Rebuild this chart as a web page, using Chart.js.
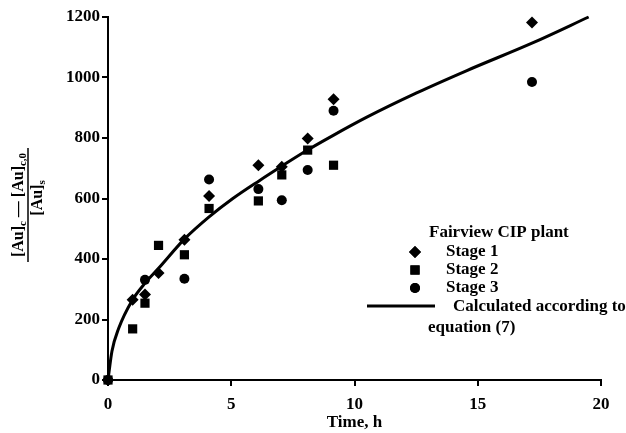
<!DOCTYPE html>
<html>
<head>
<meta charset="utf-8">
<script src="https://cdn.jsdelivr.net/npm/chart.js@4.4.1/dist/chart.umd.min.js"></script>
<style>
  html, body { margin: 0; padding: 0; background: #fff; }
  #wrap { width: 626px; height: 433px; position: relative; }
</style>
</head>
<body>
<div id="wrap"><canvas id="c" width="626" height="433"></canvas></div>
<script>
// ---- data ----
const stage1Time  = [0, 1.0, 1.5, 2.05, 3.1, 4.1, 6.1, 7.05, 8.1, 9.15, 17.2];
const stage1Value = [0, 265, 283, 354, 464, 608, 710, 705, 798, 928, 1182];
const stage2Time  = [0, 1.0, 1.5, 2.05, 3.1, 4.1, 6.1, 7.05, 8.1, 9.15];
const stage2Value = [0, 169, 254, 445, 414, 567, 592, 678, 760, 710];
const stage3Time  = [0, 1.5, 3.1, 4.1, 6.1, 7.05, 8.1, 9.15, 17.2];
const stage3Value = [0, 331, 335, 663, 631, 594, 694, 890, 985];
const curveTime   = [0, 0.16, 0.43, 0.98, 1.52, 2.06, 3.08, 4.10, 5.05, 6.14, 7.09, 8.11, 9.12, 10.48, 12.52, 14.56, 17.27, 19.5];
const curveValue  = [0, 95, 170, 263, 322, 370, 464, 539, 599, 659, 709, 761, 808, 868, 949, 1023, 1116, 1200];
const xTicks = [0, 5, 10, 15, 20];
const yTicks = [0, 200, 400, 600, 800, 1000, 1200];
const seriesNames = ['Stage 1', 'Stage 2', 'Stage 3', 'Calculated according to'];
const legendTitle = 'Fairview CIP plant';
const legendExtra = 'equation (7)';
const xTitle = 'Time, h';

const pts = (xs, ys) => xs.map((x, i) => ({ x: x, y: ys[i] }));
const FONT = '"Liberation Serif", "DejaVu Serif", serif';

const legendPlugin = {
  id: 'customLegend',
  afterDraw(chart) {
    const ctx = chart.ctx;
    ctx.save();
    ctx.fillStyle = '#000';
    ctx.strokeStyle = '#000';
    ctx.font = 'bold 17px ' + FONT;
    ctx.textBaseline = 'middle';
    ctx.textAlign = 'left';
    ctx.fillText(legendTitle, 429, 233);
    const rows = [
      { y: 252, style: 'rectRot', r: 6 },
      { y: 270, style: 'rect', r: 6.5 },
      { y: 288, style: 'circle', r: 5 }
    ];
    rows.forEach((row, i) => {
      Chart.helpers.drawPoint(ctx, { pointStyle: row.style, radius: row.r, rotation: 0, borderWidth: 0 }, 415, row.y);
      ctx.fill();
      ctx.fillText(seriesNames[i], 446, row.y);
    });
    ctx.lineWidth = 3;
    ctx.beginPath();
    ctx.moveTo(367, 306);
    ctx.lineTo(435, 306);
    ctx.stroke();
    ctx.fillText(seriesNames[3], 453, 307);
    ctx.fillText(legendExtra, 428, 328);

    // y-axis title as a fraction
    ctx.translate(28, 205);
    ctx.rotate(-Math.PI / 2);
    const big = 'bold 16px ' + FONT, small = 'bold 11px ' + FONT;
    const num = [['[Au]', big, 0], ['c', small, 4], [' \u2014 ', big, 0], ['[Au]', big, 0], ['c,0', small, 4]];
    const den = [['[Au]', big, 0], ['s', small, 4]];
    const width = parts => parts.reduce((s, p) => { ctx.font = p[1]; return s + ctx.measureText(p[0]).width; }, 0);
    const drawParts = (parts, cx, cy) => {
      let x = cx - width(parts) / 2;
      parts.forEach(p => {
        ctx.font = p[1];
        ctx.fillText(p[0], x, cy + p[2]);
        x += ctx.measureText(p[0]).width;
      });
    };
    drawParts(num, 0, -9);
    drawParts(den, 7, 10);
    ctx.lineWidth = 1.5;
    ctx.beginPath();
    ctx.moveTo(-57, 0);
    ctx.lineTo(57, 0);
    ctx.stroke();
    ctx.restore();
  }
};

new Chart(document.getElementById('c'), {
  type: 'scatter',
  data: {
    datasets: [
      { label: seriesNames[0], data: pts(stage1Time, stage1Value), pointStyle: 'rectRot', pointRadius: 6, backgroundColor: '#000', borderColor: '#000', borderWidth: 0, clip: false },
      { label: seriesNames[1], data: pts(stage2Time, stage2Value), pointStyle: 'rect', pointRadius: 6.5, backgroundColor: '#000', borderColor: '#000', borderWidth: 0, clip: false },
      { label: seriesNames[2], data: pts(stage3Time, stage3Value), pointStyle: 'circle', pointRadius: 5, backgroundColor: '#000', borderColor: '#000', borderWidth: 0, clip: false },
      { label: seriesNames[3], data: pts(curveTime, curveValue), type: 'line', showLine: true, pointRadius: 0, borderColor: '#000', borderWidth: 3, cubicInterpolationMode: 'monotone', fill: false, clip: false }
    ]
  },
  options: {
    responsive: false,
    animation: false,
    layout: { padding: { left: 0, right: 25, top: 17, bottom: 0 } },
    plugins: { legend: { display: false }, tooltip: { enabled: false } },
    scales: {
      x: {
        type: 'linear', min: 0, max: 20,
        afterBuildTicks: s => { s.ticks = xTicks.map(v => ({ value: v })); },
        afterFit: s => { s.height = 53; },
        grid: { drawOnChartArea: false, drawTicks: true, tickLength: 6, color: '#000', lineWidth: 2 },
        border: { display: true, color: '#000', width: 2 },
        ticks: { color: '#000', font: { family: FONT, size: 17, weight: 'bold' }, padding: 8, maxRotation: 0, callback: v => String(v) },
        title: { display: true, text: xTitle, color: '#000', font: { family: FONT, size: 17, weight: 'bold' }, padding: { top: 0, bottom: 0 } }
      },
      y: {
        type: 'linear', min: 0, max: 1200,
        afterBuildTicks: s => { s.ticks = yTicks.map(v => ({ value: v })); },
        afterFit: s => { s.width = 108; },
        grid: { drawOnChartArea: false, drawTicks: true, tickLength: 6, color: '#000', lineWidth: 2 },
        border: { display: true, color: '#000', width: 2 },
        ticks: { color: '#000', font: { family: FONT, size: 17, weight: 'bold' }, padding: 2, callback: v => String(v) }
      }
    }
  },
  plugins: [legendPlugin]
});
</script>
</body>
</html>
